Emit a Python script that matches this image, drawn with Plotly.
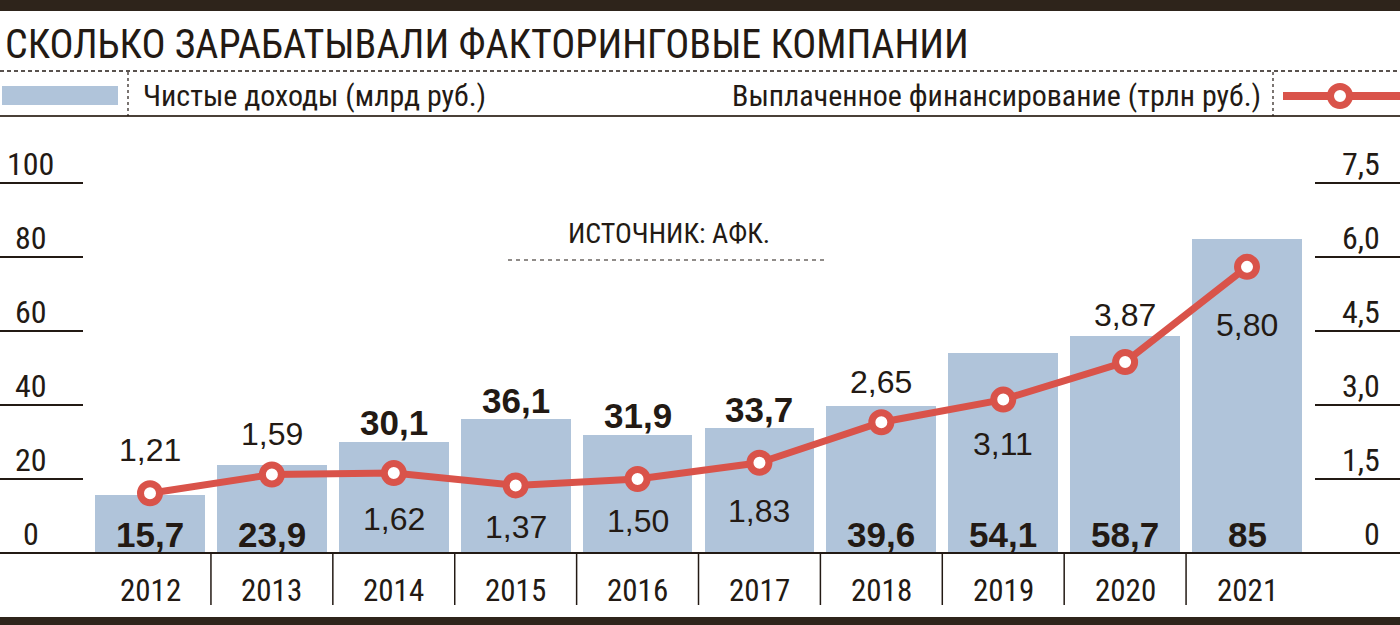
import plotly.graph_objects as go

# ---------------- data ----------------
years = ["2012", "2013", "2014", "2015", "2016", "2017", "2018", "2019", "2020", "2021"]
income = [15.7, 23.9, 30.1, 36.1, 31.9, 33.7, 39.6, 54.1, 58.7, 85]
income_labels = ["15,7", "23,9", "30,1", "36,1", "31,9", "33,7", "39,6", "54,1", "58,7", "85"]
financing = [1.21, 1.59, 1.62, 1.37, 1.50, 1.83, 2.65, 3.11, 3.87, 5.80]
financing_labels = ["1,21", "1,59", "1,62", "1,37", "1,50", "1,83", "2,65", "3,11", "3,87", "5,80"]
left_ticks = [0, 20, 40, 60, 80, 100]
left_tick_labels = ["0", "20", "40", "60", "80", "100"]
right_ticks = [0, 1.5, 3.0, 4.5, 6.0, 7.5]
right_tick_labels = ["0", "1,5", "3,0", "4,5", "6,0", "7,5"]

title = "СКОЛЬКО ЗАРАБАТЫВАЛИ ФАКТОРИНГОВЫЕ КОМПАНИИ"
legend_bar = "Чистые доходы (млрд руб.)"
legend_line = "Выплаченное финансирование (трлн руб.)"
source = "ИСТОЧНИК: АФК."

# ---------------- style / layout ----------------
W, H = 1400, 625
BAR = "#b0c4da"
RED = "#d9534a"
INK = "#231a14"
DARK = "#2e241b"
NARROW = "Roboto Condensed, DejaVu Sans Condensed, sans-serif"
SANS = "Liberation Sans, Arial, Helvetica, sans-serif"

# bar label placement: inside bottom (True) or above bar (False)
bar_label_inside = [True, True, False, False, False, False, True, True, True, True]
# line label offset in pixels (positive = above marker)
line_label_shift = [43, 41, -46, -42, -42, -48, 40, -44, 47, -58]

PX_X0, STEP = 150.0, 121.89       # pixel x of first category, px per category
Y0PX, PY = 553.0, 3.70            # pixel y of zero, px per unit (left axis)
RIGHT_MAX = 7.5
LEFT_MAX = 100.0
ratio = RIGHT_MAX / LEFT_MAX

xmin = -PX_X0 / STEP
xmax = (W - PX_X0) / STEP
ymin = -(H - Y0PX) / PY
ymax = Y0PX / PY


def X(px):
    return px / W


def Y(py):
    return 1 - py / H


fig = go.Figure()
fig.add_trace(go.Bar(x=years, y=income, marker=dict(color=BAR, line=dict(width=0)),
                     width=0.9, hoverinfo="skip", showlegend=False))
fig.add_trace(go.Scatter(x=years, y=financing, yaxis="y2", mode="lines+markers",
                         line=dict(color=RED, width=7),
                         marker=dict(size=19, color="white", line=dict(color=RED, width=7)),
                         cliponaxis=False, hoverinfo="skip", showlegend=False))

shapes = []
ann = []

# top and bottom heavy rules
shapes.append(dict(type="rect", xref="paper", yref="paper", x0=0, x1=1, y0=Y(11), y1=Y(0),
                   fillcolor=DARK, line=dict(width=0)))
shapes.append(dict(type="rect", xref="paper", yref="paper", x0=0, x1=1, y0=Y(625), y1=Y(617),
                   fillcolor=DARK, line=dict(width=0)))
# dashed rule under title
shapes.append(dict(type="line", xref="paper", yref="paper", x0=0, x1=1, y0=Y(71), y1=Y(71),
                   line=dict(color=INK, width=1.5, dash="4px,3px")))
# solid rule under legend
shapes.append(dict(type="line", xref="paper", yref="paper", x0=0, x1=1, y0=Y(116), y1=Y(116),
                   line=dict(color="#4a4038", width=2)))
# legend vertical dashed separators
for vx in (128, 1273):
    shapes.append(dict(type="line", xref="paper", yref="paper", x0=X(vx), x1=X(vx), y0=Y(72), y1=Y(116),
                       line=dict(color=INK, width=1.2, dash="3px,3px")))
# legend swatch
shapes.append(dict(type="rect", xref="paper", yref="paper", x0=X(2), x1=X(118), y0=Y(105), y1=Y(86),
                   fillcolor=BAR, line=dict(width=0)))
# legend line + marker
shapes.append(dict(type="line", xref="paper", yref="paper", x0=X(1283), x1=X(1400), y0=Y(96), y1=Y(96),
                   line=dict(color=RED, width=8)))
shapes.append(dict(type="circle", xref="paper", yref="paper", x0=X(1340 - 9.5), x1=X(1340 + 9.5),
                   y0=Y(96 + 9.5), y1=Y(96 - 9.5), fillcolor="white", line=dict(color=RED, width=7)))

# x axis base line
shapes.append(dict(type="line", xref="paper", yref="y", x0=0, x1=1, y0=0, y1=0,
                   line=dict(color=INK, width=2)))
# category separators
for i in range(len(years) - 1):
    shapes.append(dict(type="line", xref="x", yref="y", x0=i + 0.5, x1=i + 0.5, y0=0, y1=-52 / PY,
                       line=dict(color=INK, width=1.5)))

# left axis ticks
for v, t in zip(left_ticks, left_tick_labels):
    if v > 0:
        shapes.append(dict(type="line", xref="paper", yref="y", x0=0, x1=X(83), y0=v, y1=v,
                           line=dict(color=INK, width=2)))
    ann.append(dict(text=t, xref="paper", yref="y", x=X(31), y=v, yshift=19, showarrow=False,
                    xanchor="center", yanchor="middle", font=dict(family=NARROW, size=32, color=INK)))
# right axis ticks
for v, t in zip(right_ticks, right_tick_labels):
    if v > 0:
        shapes.append(dict(type="line", xref="paper", yref="y2", x0=X(1315), x1=1, y0=v, y1=v,
                           line=dict(color=INK, width=2)))
    ann.append(dict(text=t, xref="paper", yref="y2", x=X(1382), y=v, yshift=19, showarrow=False,
                    xanchor="right", yanchor="middle", font=dict(family=NARROW, size=32, color=INK)))

# year labels
for i, yr in enumerate(years):
    ann.append(dict(text=yr, xref="x", yref="y", x=i, y=0, yshift=-37, showarrow=False,
                    xanchor="center", yanchor="middle", font=dict(family=NARROW, size=31, color=INK)))

# bar labels
for i, (v, t, inside) in enumerate(zip(income, income_labels, bar_label_inside)):
    ann.append(dict(text=f"<b>{t}</b>", xref="x", yref="y", x=i, y=0 if inside else v,
                    yshift=19, showarrow=False, xanchor="center", yanchor="middle",
                    font=dict(family=SANS, size=35, color=INK)))

# line labels
for i, (v, t, s) in enumerate(zip(financing, financing_labels, line_label_shift)):
    ann.append(dict(text=t, xref="x", yref="y2", x=i, y=v, yshift=s, showarrow=False,
                    xanchor="center", yanchor="middle", font=dict(family=SANS, size=32, color=INK)))

# title, legend text, source
ann.append(dict(text=title, xref="paper", yref="paper", x=X(3), y=Y(44), showarrow=False,
                xanchor="left", yanchor="middle", font=dict(family=NARROW, size=40, color=INK)))
ann.append(dict(text=legend_bar, xref="paper", yref="paper", x=X(141), y=Y(96), showarrow=False,
                xanchor="left", yanchor="middle", font=dict(family=NARROW, size=30, color=INK)))
ann.append(dict(text=legend_line, xref="paper", yref="paper", x=X(1263), y=Y(96), showarrow=False,
                xanchor="right", yanchor="middle", font=dict(family=NARROW, size=30, color=INK)))
ann.append(dict(text=source, xref="paper", yref="paper", x=X(669), y=Y(233), showarrow=False,
                xanchor="center", yanchor="middle", font=dict(family=NARROW, size=28, color=INK)))
shapes.append(dict(type="line", xref="paper", yref="paper", x0=X(508), x1=X(826), y0=Y(260), y1=Y(260),
                   line=dict(color=INK, width=1.2, dash="4px,4px")))

fig.update_layout(
    width=W, height=H,
    margin=dict(l=0, r=0, t=0, b=0),
    paper_bgcolor="white", plot_bgcolor="white",
    xaxis=dict(type="category", range=[xmin, xmax], domain=[0, 1], showticklabels=False,
               showgrid=False, zeroline=False, showline=False, ticks=""),
    yaxis=dict(range=[ymin, ymax], domain=[0, 1], showticklabels=False, showgrid=False,
               zeroline=False, showline=False, ticks=""),
    yaxis2=dict(range=[ymin * ratio, ymax * ratio], overlaying="y", side="right",
                showticklabels=False, showgrid=False, zeroline=False, showline=False, ticks=""),
    shapes=shapes, annotations=ann,
    bargap=0, showlegend=False,
)

fig.write_html("out.html")
